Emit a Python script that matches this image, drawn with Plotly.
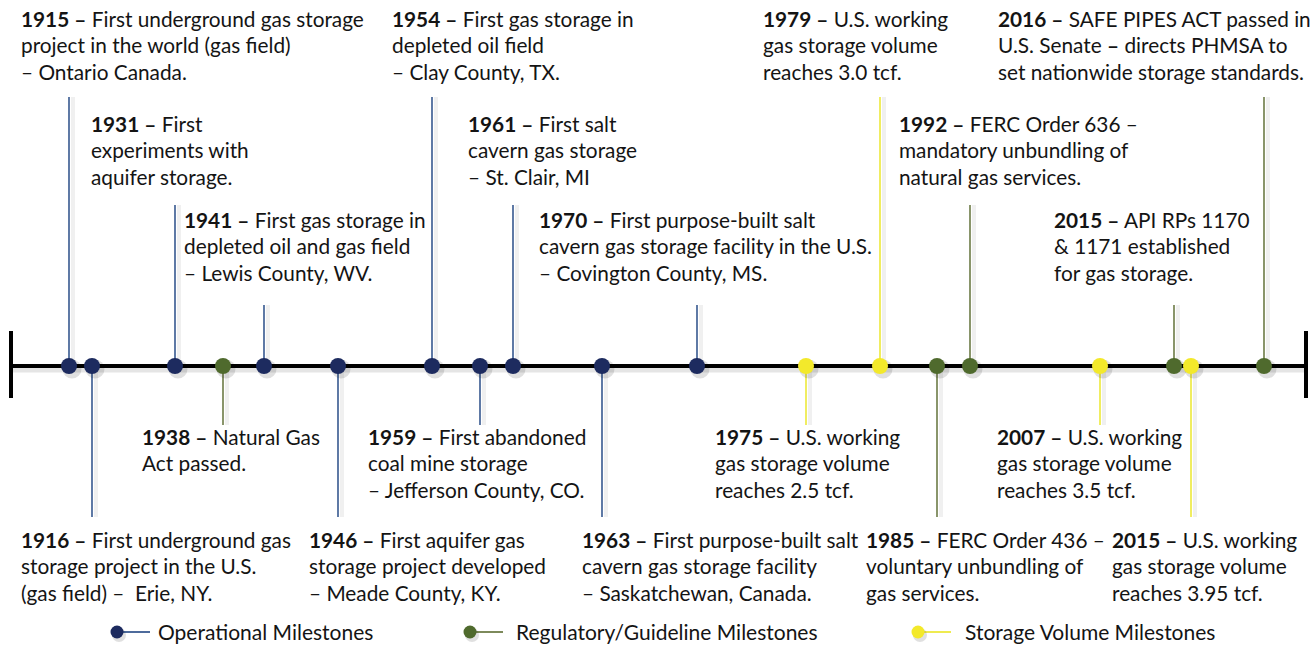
import plotly.graph_objects as go

# ---------------- data ----------------
years = ["1915", "1916", "1931", "1938", "1941", "1946", "1954", "1959", "1961", "1963",
         "1970", "1975", "1979", "1985", "1992", "2007", "2015", "2015", "2016"]
kinds = ["op", "op", "op", "reg", "op", "op", "op", "op", "op", "op",
         "op", "vol", "vol", "reg", "reg", "vol", "reg", "vol", "reg"]
# position of each milestone along the timeline (timeline units)
slots = [69, 92, 175, 223, 264, 338, 432, 480, 513, 602,
         697, 806, 880, 937, 970, 1100, 1174, 1191, 1264]
# stem tier: positive = label above the timeline, negative = below
tiers = [3, -2, 2, -1, 1, -2, 3, -1, 2, -2,
         1, -1, 3, -2, 2, -1, 1, -2, 3]
first_lines = [
    "First underground gas storage",
    "First underground gas",
    "First",
    "Natural Gas",
    "First gas storage in",
    "First aquifer gas",
    "First gas storage in",
    "First abandoned",
    "First salt",
    "First purpose-built salt",
    "First purpose-built salt",
    "U.S. working",
    "U.S. working",
    "FERC Order 436 –",
    "FERC Order 636 –",
    "U.S. working",
    "API RPs 1170",
    "U.S. working",
    "SAFE PIPES ACT passed in",
]
more_lines = [
    ["project in the world (gas field)", "– Ontario Canada."],
    ["storage project in the U.S.", "(gas field) –  Erie, NY."],
    ["experiments with", "aquifer storage."],
    ["Act passed."],
    ["depleted oil and gas field", "– Lewis County, WV."],
    ["storage project developed", "– Meade County, KY."],
    ["depleted oil field", "– Clay County, TX."],
    ["coal mine storage", "– Jefferson County, CO."],
    ["cavern gas storage", "– St. Clair, MI"],
    ["cavern gas storage facility", "– Saskatchewan, Canada."],
    ["cavern gas storage facility in the U.S.", "– Covington County, MS."],
    ["gas storage volume", "reaches 2.5 tcf."],
    ["gas storage volume", "reaches 3.0 tcf."],
    ["voluntary unbundling of", "gas services."],
    ["mandatory unbundling of", "natural gas services."],
    ["gas storage volume", "reaches 3.5 tcf."],
    ["& 1171 established", "for gas storage."],
    ["gas storage volume", "reaches 3.95 tcf."],
    ["U.S. Senate <b>–</b> directs PHMSA to", "set nationwide storage standards."],
]
legend_names = {"op": "Operational Milestones",
                "reg": "Regulatory/Guideline Milestones",
                "vol": "Storage Volume Milestones"}

# ---------------- layout / style ----------------
label_x = [20, 20, 90, 141, 183, 308, 391, 367, 467, 581,
           538, 714, 762, 865, 898, 996, 1053, 1111, 997]
W, H = 1315, 645
AXIS_Y = 366
stem_end = {3: 97, 2: 205, 1: 305, -1: 425, -2: 517}
first_baseline = {3: 27, 2: 132, 1: 228, -1: 445, -2: 548}
LINE_GAP = 26.7
dot_col = {"op": "#1d2b5f", "reg": "#4f6a2d", "vol": "#f3e92b"}
stem_col = {"op": "#4d6b9c", "reg": "#7d8a5b", "vol": "#efeb50"}
FONT = "Lato"
FS = 20.8
TXT = "#141414"
SHADOW = "rgba(0,0,0,0.10)"

fig = go.Figure()

# axis shadow and axis
fig.add_trace(go.Scatter(x=[12, 1306], y=[AXIS_Y + 3, AXIS_Y + 3], mode="lines",
                         line=dict(color=SHADOW, width=7), hoverinfo="skip"))
# stems (shadow then line)
for s, t, k in zip(slots, tiers, kinds):
    fig.add_trace(go.Scatter(x=[s + 4, s + 4], y=[AXIS_Y, stem_end[t]], mode="lines",
                             line=dict(color="rgba(0,0,0,0.06)", width=4), hoverinfo="skip"))
    fig.add_trace(go.Scatter(x=[s, s], y=[AXIS_Y, stem_end[t]], mode="lines",
                             line=dict(color=stem_col[k], width=1.8), hoverinfo="skip"))
fig.add_trace(go.Scatter(x=[11, 1306], y=[AXIS_Y, AXIS_Y], mode="lines",
                         line=dict(color="#000000", width=4), hoverinfo="skip"))
# end caps
for ex in (11, 1306):
    fig.add_trace(go.Scatter(x=[ex, ex], y=[331, 398], mode="lines",
                             line=dict(color="#000000", width=4), hoverinfo="skip"))
# dots (shadow then dot)
fig.add_trace(go.Scatter(x=[s + 3 for s in slots], y=[AXIS_Y + 3] * len(slots), mode="markers",
                         marker=dict(size=19, color="rgba(0,0,0,0.12)", line=dict(width=0)),
                         hoverinfo="skip"))
fig.add_trace(go.Scatter(x=slots, y=[AXIS_Y] * len(slots), mode="markers",
                         marker=dict(size=16, color=[dot_col[k] for k in kinds], line=dict(width=0)),
                         hoverinfo="skip"))

# labels
ann = []
for yr, t, fl, ml, lx in zip(years, tiers, first_lines, more_lines, label_x):
    lines = [f"<b>{yr} –</b> {fl}"] + ml
    for i, txt in enumerate(lines):
        ann.append(dict(x=lx, y=first_baseline[t] + i * LINE_GAP - 0.42 * FS, xref="x", yref="y",
                        text=txt, showarrow=False, xanchor="left", yanchor="middle",
                        font=dict(family=FONT, size=FS, color=TXT), borderpad=0))

# legend
leg_dot_x = {"op": 117, "reg": 470, "vol": 918}
leg_txt_x = {"op": 157, "reg": 515, "vol": 964}
LEG_Y = 632
for k in ("op", "reg", "vol"):
    fig.add_trace(go.Scatter(x=[leg_dot_x[k], leg_dot_x[k] + 33], y=[LEG_Y, LEG_Y], mode="lines",
                             line=dict(color=stem_col[k], width=2), hoverinfo="skip"))
    fig.add_trace(go.Scatter(x=[leg_dot_x[k] + 2], y=[LEG_Y + 3], mode="markers",
                             marker=dict(size=14, color="rgba(0,0,0,0.12)"), hoverinfo="skip"))
    fig.add_trace(go.Scatter(x=[leg_dot_x[k]], y=[LEG_Y], mode="markers",
                             marker=dict(size=13, color=dot_col[k]), hoverinfo="skip"))
    ann.append(dict(x=leg_txt_x[k], y=LEG_Y - 1, xref="x", yref="y", text=legend_names[k],
                    showarrow=False, xanchor="left", yanchor="middle",
                    font=dict(family=FONT, size=21, color=TXT), borderpad=0))

fig.update_layout(
    width=W, height=H, margin=dict(l=0, r=0, t=0, b=0),
    paper_bgcolor="white", plot_bgcolor="white", showlegend=False,
    xaxis=dict(range=[0, W], visible=False, fixedrange=True),
    yaxis=dict(range=[H, 0], visible=False, fixedrange=True),
    annotations=ann,
)
fig.write_html("out.html", config={"displayModeBar": False},
               post_script="document.body.style.margin='0';document.body.style.overflow='hidden';")
